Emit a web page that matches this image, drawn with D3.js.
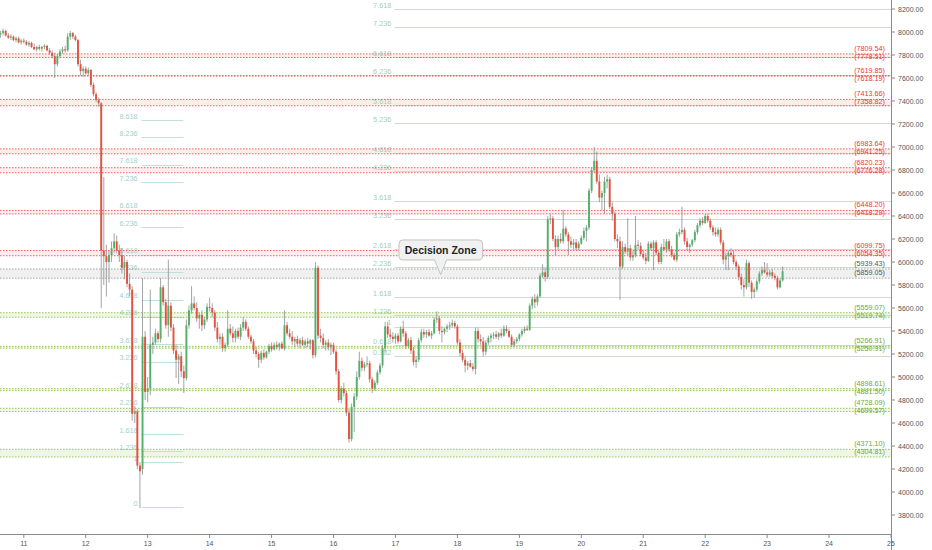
<!DOCTYPE html>
<html><head><meta charset="utf-8">
<script src="https://cdn.jsdelivr.net/npm/d3@7"></script>
<style>body{margin:0;background:#fff}svg{display:block}text{font-family:"Liberation Sans",Arial,sans-serif}</style>
</head><body><svg id="c" width="932" height="550"></svg>
<script>
// ---------- DATA ----------
const startTime = Date.UTC(2020, 2, 10, 15); // first hourly candle (UTC)
const candleHours = 1;
// [open, high, low, close]
const candles = [
[7980,8010,7950,7990],[7990,8030,7970,8010],[8010,8020,7960,7970],[7970,7990,7940,7950],[7950,7980,7930,7960],[7960,7970,7920,7930],[7930,7960,7910,7945],[7945,7960,7900,7910],[7910,7940,7890,7925],[7925,7945,7900,7915],
[7915,7930,7880,7890],[7890,7920,7870,7905],[7905,7915,7860,7870],[7870,7900,7840,7850],[7850,7880,7830,7870],[7870,7890,7840,7855],[7855,7880,7830,7870],[7870,7895,7850,7880],[7880,7890,7830,7840],[7840,7860,7800,7820],
[7820,7840,7770,7790],[7790,7820,7600,7720],[7720,7810,7700,7790],[7790,7850,7770,7830],[7830,7870,7810,7850],[7850,7880,7820,7840],[7840,7990,7830,7960],[7960,8010,7930,7990],[7990,8000,7940,7960],[7960,7975,7920,7930],
[7930,7940,7700,7720],[7720,7760,7620,7660],[7660,7700,7610,7680],[7680,7700,7630,7640],[7640,7690,7620,7670],[7670,7680,7520,7540],[7540,7560,7440,7460],[7460,7480,7390,7410],[7410,7430,7350,7380],[7380,7390,5600,6100],
[6100,6740,5800,6050],[6050,6150,5700,6000],[6000,6100,5820,6060],[6060,6180,6000,6120],[6120,6250,6080,6180],[6180,6230,6080,6100],[6100,6150,6000,6060],[6060,6120,5900,5950],[5950,6050,5850,6000],[6000,6020,5780,5810],
[5810,5900,5700,5760],[5760,5790,4620,4680],[4680,4750,4600,4700],[4700,4720,4200,4230],[4230,4260,3860,4180],[4200,5860,4150,5350],[5350,5400,4800,4870],[4870,5000,4780,4900],[4900,5760,4840,5280],[5280,5350,5200,5300],
[5300,5420,5280,5380],[5380,5400,5300,5330],[5330,5860,5300,5780],[5780,5800,5620,5650],[5650,5680,5420,5450],[5450,6020,5350,5620],[5620,5650,5400,5430],[5430,5460,5200,5230],[5230,5280,4990,5150],[5150,5200,4940,5180],
[5180,5220,5000,5050],[5050,5100,4860,4990],[4990,5500,4970,5450],[5450,5620,5420,5580],[5580,5790,5550,5640],[5640,5700,5580,5600],[5600,5650,5480,5510],[5510,5560,5420,5540],[5540,5580,5400,5450],[5450,5520,5420,5500],
[5500,5640,5480,5610],[5610,5690,5570,5600],[5600,5640,5520,5560],[5560,5580,5400,5430],[5430,5480,5300,5330],[5330,5380,5280,5350],[5350,5380,5220,5250],[5250,5300,5220,5280],[5280,5580,5260,5420],[5420,5460,5360,5380],
[5380,5440,5300,5340],[5340,5420,5300,5400],[5400,5430,5330,5350],[5350,5460,5320,5430],[5430,5520,5400,5480],[5480,5500,5400,5420],[5420,5440,5330,5350],[5350,5370,5290,5310],[5310,5330,5200,5230],[5230,5260,5170,5200],
[5200,5220,5080,5150],[5150,5230,5120,5210],[5210,5240,5150,5170],[5170,5230,5160,5220],[5220,5290,5200,5270],[5270,5300,5220,5240],[5240,5300,5230,5280],[5280,5310,5240,5260],[5260,5300,5230,5290],[5290,5310,5240,5250],
[5250,5580,5230,5450],[5450,5480,5360,5380],[5380,5420,5330,5350],[5350,5400,5280,5310],[5310,5350,5260,5330],[5330,5360,5270,5290],[5290,5340,5250,5320],[5320,5350,5270,5280],[5280,5330,5250,5310],[5310,5340,5260,5290],
[5290,5330,5240,5320],[5320,5330,5160,5190],[5190,6000,5170,5950],[5950,5970,5330,5360],[5360,5420,5300,5340],[5340,5380,5250,5280],[5280,5320,5230,5300],[5300,5330,5230,5260],[5260,5300,5190,5280],[5280,5300,5200,5220],
[5220,5240,5020,5050],[5050,5070,4780,4800],[4800,4920,4770,4900],[4900,4950,4830,4860],[4860,4880,4660,4690],[4690,4720,4430,4460],[4460,4770,4440,4740],[4740,4860,4520,4830],[4830,5050,4800,5000],[5000,5220,4980,5140],
[5140,5170,5050,5080],[5080,5130,5050,5110],[5110,5180,5090,5120],[5120,5140,4950,4980],[4980,5000,4860,4900],[4900,4970,4880,4950],[4950,5060,4930,5040],[5040,5120,5020,5100],[5100,5280,5080,5250],[5250,5480,5220,5440],
[5440,5480,5340,5370],[5370,5420,5330,5350],[5350,5390,5300,5330],[5330,5380,5290,5360],[5360,5380,5290,5310],[5310,5440,5300,5420],[5420,5490,5350,5380],[5380,5400,5240,5270],[5270,5340,5250,5320],[5320,5350,5200,5230],
[5230,5260,5100,5130],[5130,5180,5080,5150],[5150,5340,5130,5320],[5320,5420,5300,5390],[5390,5420,5340,5370],[5370,5410,5340,5390],[5390,5420,5350,5360],[5360,5400,5330,5380],[5380,5520,5370,5500],[5500,5570,5470,5510],
[5510,5530,5370,5400],[5400,5440,5300,5390],[5390,5430,5370,5420],[5420,5460,5390,5440],[5440,5480,5410,5450],[5450,5500,5430,5470],[5470,5490,5420,5440],[5440,5460,5280,5300],[5300,5330,5180,5210],[5210,5240,5130,5150],
[5150,5180,5040,5100],[5100,5140,5060,5120],[5120,5150,5080,5090],[5090,5120,5050,5070],[5070,5430,5020,5400],[5400,5430,5300,5330],[5330,5370,5280,5310],[5310,5350,5180,5220],[5220,5320,5190,5300],[5300,5360,5280,5340],
[5340,5380,5300,5360],[5360,5390,5330,5370],[5370,5400,5330,5350],[5350,5390,5320,5380],[5380,5420,5340,5360],[5360,5450,5350,5420],[5420,5450,5380,5400],[5400,5420,5340,5350],[5350,5370,5260,5280],[5280,5330,5260,5310],
[5310,5350,5290,5330],[5330,5380,5310,5370],[5370,5420,5350,5400],[5400,5440,5380,5420],[5420,5450,5400,5410],[5410,5640,5400,5620],[5620,5700,5590,5680],[5680,5720,5600,5650],[5650,5720,5620,5700],[5700,5900,5690,5880],
[5880,5980,5860,5910],[5910,5950,5830,5870],[5870,6400,5850,6370],[6370,6420,6330,6380],[6380,6400,6180,6200],[6200,6230,6060,6130],[6130,6230,6110,6200],[6200,6250,6160,6180],[6180,6450,6160,6290],[6290,6310,6220,6240],
[6240,6260,6060,6180],[6180,6220,6120,6150],[6150,6200,6110,6170],[6170,6200,6100,6120],[6120,6180,6100,6160],[6160,6230,6150,6210],[6210,6300,6190,6270],[6270,6320,6180,6300],[6300,6640,6280,6620],[6620,6820,6600,6800],
[6800,7000,6780,6880],[6880,6960,6680,6700],[6700,6760,6520,6560],[6560,6620,6450,6600],[6600,6740,6420,6700],[6700,6760,6640,6720],[6720,6740,6460,6480],[6480,6520,6360,6420],[6420,6440,6180,6200],[6200,6240,6120,6180],
[6180,6220,5670,5960],[5960,6180,5940,6130],[6130,6160,6070,6090],[6090,6380,6060,6120],[6120,6150,6010,6040],[6040,6100,6010,6060],[6060,6400,6040,6150],[6150,6190,6110,6140],[6140,6170,6050,6070],[6070,6100,6020,6040],
[6040,6080,5980,6010],[6010,6180,6000,6160],[6160,6180,6100,6120],[6120,6190,5930,6170],[6170,6190,6060,6080],[6080,6100,5980,6000],[6000,6160,5980,6130],[6130,6200,6100,6110],[6110,6200,6080,6180],[6180,6200,6090,6110],
[6110,6140,6040,6060],[6060,6080,6010,6020],[6020,6260,6000,6240],[6240,6290,6220,6260],[6260,6480,6240,6280],[6280,6300,6150,6180],[6180,6210,6100,6130],[6130,6160,6080,6150],[6150,6200,6130,6190],[6190,6280,6170,6260],
[6260,6340,6240,6320],[6320,6380,6300,6360],[6360,6390,6320,6340],[6340,6420,6330,6400],[6400,6420,6340,6360],[6360,6380,6280,6300],[6300,6320,6230,6260],[6260,6300,6220,6240],[6240,6300,6220,6280],[6280,6300,6150,6170],
[6170,6190,5980,6020],[6020,6080,5930,6050],[6050,6100,5930,6080],[6080,6120,6040,6060],[6060,6100,5980,6000],[6000,6020,5930,5960],[5960,5980,5840,5870],[5870,5900,5760,5800],[5800,5850,5700,5780],[5780,6020,5760,5990],
[5990,6010,5780,5820],[5820,5840,5680,5740],[5740,5780,5690,5760],[5760,5850,5740,5830],[5830,5920,5810,5900],[5900,5960,5880,5930],[5930,6000,5900,5910],[5910,5990,5870,5890],[5890,5930,5870,5910],[5910,5940,5860,5880],
[5880,5900,5840,5860],[5860,5880,5760,5780],[5780,5860,5770,5840],[5840,5960,5830,5920]
];
const priceTicks = [3800,4000,4200,4400,4600,4800,5000,5200,5400,5600,5800,6000,6200,6400,6600,6800,7000,7200,7400,7600,7800,8000,8200];
const dayTicks = [11,12,13,14,15,16,17,18,19,20,21,22,23,24,25];
const redZones = [[7809.54,7778.51],[7619.85,7618.19],[7413.66,7358.82],[6983.64,6941.25],[6820.23,6776.28],[6448.20,6418.29],[6099.75,6054.35]];
const grayZones = [[5939.43,5859.05]];
const greenZones = [[5559.07,5519.74],[5266.91,5250.91],[4898.61,4881.50],[4728.09,4699.57],[4371.10,4304.81]];
const fibLeftLevels = [0,1,1.236,1.618,2.236,2.618,3.236,3.618,4.236,4.618,5.236,5.618,6.236,6.618,7.236,7.618,8.236,8.618];
const fibLeftAnchor = [3870, 4260.5];
const fibLeftSpan = [Date.UTC(2020,2,12,21,40), Date.UTC(2020,2,13,13,50)];
const fibMidLevels = [0.382,0.618,1,1.236,1.618,2.236,2.618,3.236,3.618,4.236,4.618,5.236,5.618,6.236,6.618,7.236,7.618];
const fibMidAnchor = [5020, 5437.4];
const fibMidStart = Date.UTC(2020,2,16,23,35);
const callout = {text: "Decision Zone", time: Date.UTC(2020,2,17,17,30), price: 5890};

// ---------- CHART ----------
const plotR = 891, plotB = 534;
const x = d3.scaleUtc().domain([Date.UTC(2020,2,11), Date.UTC(2020,2,25)]).range([23.8, 891]);
const y = d3.scaleLinear().domain([3800, 8200]).range([515, 9]);
const svg = d3.select('#c');
svg.append('defs').append('clipPath').attr('id','plot')
  .append('rect').attr('x',0).attr('y',0).attr('width',plotR).attr('height',plotB);
const g = svg.append('g').attr('clip-path','url(#plot)');

const zoneStyles = {
  red:   {fill:'rgba(239,83,80,0.11)',  stroke:'#ef5350', text:'#e53935'},
  gray:  {fill:'rgba(120,120,120,0.11)', stroke:'#9e9e9e', text:'#555555'},
  green: {fill:'rgba(124,179,66,0.12)', stroke:'#8bc34a', text:'#6fa743'}
};
const zones = [];
redZones.forEach(z => zones.push({z, s:zoneStyles.red}));
grayZones.forEach(z => zones.push({z, s:zoneStyles.gray}));
greenZones.forEach(z => zones.push({z, s:zoneStyles.green}));

// zone fills
zones.forEach(({z,s}) => {
  const y0 = y(d3.max(z)), y1 = y(d3.min(z));
  g.append('rect').attr('x',0).attr('width',plotR).attr('y',y0).attr('height',Math.max(0.5,y1-y0)).attr('fill',s.fill);
});

// fib lines (middle, extended right)
const fibMidPrice = l => fibMidAnchor[0] + l*(fibMidAnchor[1]-fibMidAnchor[0]);
g.selectAll('line.fm').data(fibMidLevels).join('line')
  .attr('x1', x(fibMidStart)).attr('x2', plotR)
  .attr('y1', d => Math.round(y(fibMidPrice(d)))+0.5).attr('y2', d => Math.round(y(fibMidPrice(d)))+0.5)
  .attr('stroke','#cfdad1').attr('stroke-width',1);
g.selectAll('text.fm').data(fibMidLevels).join('text')
  .attr('x', x(fibMidStart)-3).attr('y', d => y(fibMidPrice(d))-1.4)
  .attr('text-anchor','end').attr('font-size',7.3).attr('fill','#a9cfae')
  .text(d => String(d));

// fib lines (left)
const fibLeftPrice = l => fibLeftAnchor[0] + l*(fibLeftAnchor[1]-fibLeftAnchor[0]);
g.selectAll('line.fl').data(fibLeftLevels).join('line')
  .attr('x1', x(fibLeftSpan[0])).attr('x2', x(fibLeftSpan[1]))
  .attr('y1', d => Math.round(y(fibLeftPrice(d)))+0.5).attr('y2', d => Math.round(y(fibLeftPrice(d)))+0.5)
  .attr('stroke','#bfe1de').attr('stroke-width',1);
g.selectAll('text.fl').data(fibLeftLevels).join('text')
  .attr('x', x(fibLeftSpan[0])-4).attr('y', d => y(fibLeftPrice(d))-1.4)
  .attr('text-anchor','end').attr('font-size',7.3).attr('fill','#9fd1cb')
  .text(d => String(d));

// zone dotted lines
zones.forEach(({z,s}) => {
  z.forEach(p => {
    g.append('line').attr('x1',0).attr('x2',plotR).attr('y1',y(p)).attr('y2',y(p))
      .attr('stroke',s.stroke).attr('stroke-width',0.9).attr('stroke-dasharray','1.5,1.5');
  });
});

// candles
const data = candles.map((c,i) => ({t: startTime + i*candleHours*3600000, o:c[0], h:c[1], l:c[2], c:c[3]}));
const cg = g.append('g');
cg.selectAll('line.w').data(data).join('line')
  .attr('x1', d => x(d.t)).attr('x2', d => x(d.t))
  .attr('y1', d => y(d.h)).attr('y2', d => y(d.l))
  .attr('stroke','#8d8d8d').attr('stroke-width',0.8);
const bw = 1.9;
cg.selectAll('rect.b').data(data).join('rect')
  .attr('x', d => x(d.t)-bw/2).attr('width', bw)
  .attr('y', d => y(Math.max(d.o,d.c)))
  .attr('height', d => Math.max(0.8, Math.abs(y(d.o)-y(d.c))))
  .attr('fill', d => d.c >= d.o ? '#53b06b' : '#e8503e');

// zone price labels (stacked so that they do not collide)
const labels = [];
zones.forEach(({z,s}) => z.forEach(p => labels.push({p, s, by: y(p)-3})));
labels.sort((a,b) => a.by - b.by);
const gap = 8;
labels.forEach((d,i) => { if (i>0 && d.by < labels[i-1].by + gap) d.by = labels[i-1].by + gap; });
svg.selectAll('text.zl').data(labels).join('text')
  .attr('x',885).attr('y', d => d.by)
  .attr('text-anchor','end').attr('font-size',7.2).attr('fill', d => d.s.text)
  .text(d => '(' + d.p.toFixed(2) + ')');

// callout
(function(){
  const ax = x(callout.time), ay = y(callout.price);
  const L = ax-41.7, R = ax+42, T = ay-34.7, B = ay-14.7, r = 4, hw = 6;
  const p = `M${L+r},${T}H${R-r}Q${R},${T} ${R},${T+r}V${B-r}Q${R},${B} ${R-r},${B}H${ax+hw}L${ax},${ay}L${ax-hw},${B}H${L+r}Q${L},${B} ${L},${B-r}V${T+r}Q${L},${T} ${L+r},${T}Z`;
  svg.append('path').attr('d',p).attr('fill','#f1f1f1').attr('stroke','#c2c2c2').attr('stroke-width',1);
  svg.append('text').attr('x',ax).attr('y',(T+B)/2+3.8).attr('text-anchor','middle')
    .attr('font-size',10.5).attr('font-weight','bold').attr('fill','#222').text(callout.text);
})();

// axes
svg.append('line').attr('x1',plotR+0.5).attr('x2',plotR+0.5).attr('y1',0).attr('y2',550).attr('stroke','#8a8a8a');
svg.append('line').attr('x1',0).attr('x2',plotR).attr('y1',plotB+0.5).attr('y2',plotB+0.5).attr('stroke','#8a8a8a');
svg.selectAll('line.pt').data(priceTicks).join('line')
  .attr('x1',plotR+1).attr('x2',plotR+4).attr('y1',d=>y(d)).attr('y2',d=>y(d)).attr('stroke','#8a8a8a');
svg.selectAll('text.pt').data(priceTicks).join('text')
  .attr('x',898).attr('y',d=>y(d)+2.5).attr('font-size',7).attr('fill','#555')
  .text(d=>d.toFixed(2));
const dayX = d => x(Date.UTC(2020,2,d));
svg.selectAll('line.dt').data(dayTicks).join('line')
  .attr('x1',dayX).attr('x2',dayX).attr('y1',plotB+1).attr('y2',plotB+4).attr('stroke','#8a8a8a');
svg.selectAll('text.dt').data(dayTicks).join('text')
  .attr('x',dayX).attr('y',545.5).attr('text-anchor','middle').attr('font-size',7).attr('fill','#555')
  .text(d=>String(d));
</script></body></html>
